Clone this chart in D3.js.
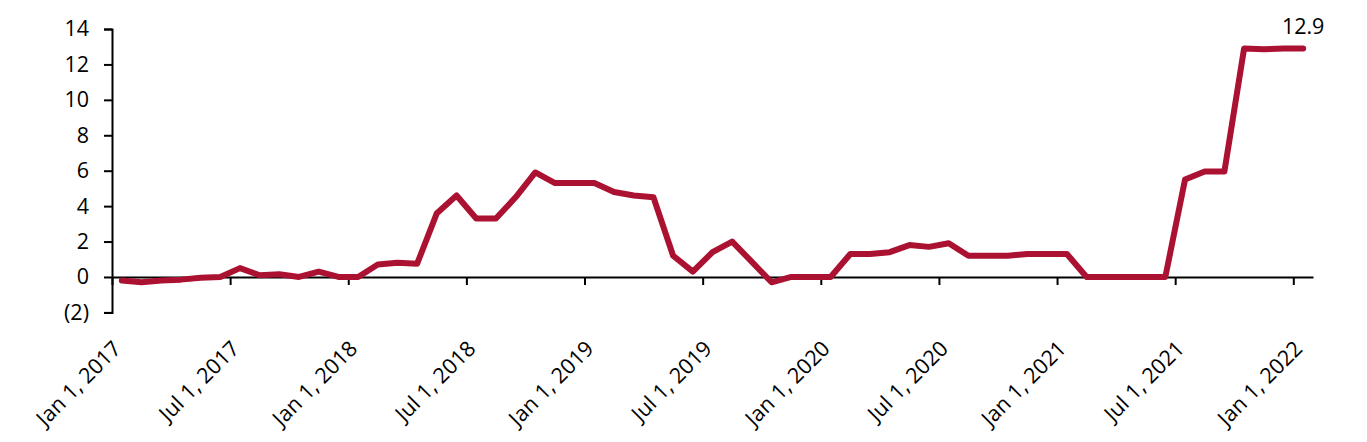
<!DOCTYPE html>
<html>
<head>
<meta charset="utf-8">
<script src="https://cdn.jsdelivr.net/npm/d3@7"></script>
<style>
  html, body { margin: 0; padding: 0; background: #fff; }
  svg text { font-family: "Open Sans", "Noto Sans", sans-serif; fill: #000; }
</style>
</head>
<body>
<svg id="chart" width="1367" height="442"></svg>
<script>
// Monthly values, Jan 2017 .. Jan 2022
const months = [
  "Jan 2017","Feb 2017","Mar 2017","Apr 2017","May 2017","Jun 2017","Jul 2017","Aug 2017","Sep 2017","Oct 2017","Nov 2017","Dec 2017",
  "Jan 2018","Feb 2018","Mar 2018","Apr 2018","May 2018","Jun 2018","Jul 2018","Aug 2018","Sep 2018","Oct 2018","Nov 2018","Dec 2018",
  "Jan 2019","Feb 2019","Mar 2019","Apr 2019","May 2019","Jun 2019","Jul 2019","Aug 2019","Sep 2019","Oct 2019","Nov 2019","Dec 2019",
  "Jan 2020","Feb 2020","Mar 2020","Apr 2020","May 2020","Jun 2020","Jul 2020","Aug 2020","Sep 2020","Oct 2020","Nov 2020","Dec 2020",
  "Jan 2021","Feb 2021","Mar 2021","Apr 2021","May 2021","Jun 2021","Jul 2021","Aug 2021","Sep 2021","Oct 2021","Nov 2021","Dec 2021",
  "Jan 2022"
];
const values = [
  -0.2, -0.3, -0.2, -0.15, -0.05, 0.0, 0.5, 0.1, 0.15, 0.0, 0.3, 0.0,
  0.0, 0.7, 0.8, 0.75, 3.6, 4.6, 3.3, 3.3, 4.5, 5.9, 5.3, 5.3,
  5.3, 4.8, 4.6, 4.5, 1.2, 0.3, 1.4, 2.0, 0.85, -0.3, 0.0, 0.0,
  0.0, 1.3, 1.3, 1.4, 1.8, 1.7, 1.9, 1.2, 1.2, 1.2, 1.3, 1.3,
  1.3, 0.0, 0.0, 0.0, 0.0, 0.0, 5.5, 5.95, 5.95, 12.9, 12.85, 12.9,
  12.9
];
const xTickIndex = [0, 6, 12, 18, 24, 30, 36, 42, 48, 54, 60];
const xTickLabels = ["Jan 1, 2017","Jul 1, 2017","Jan 1, 2018","Jul 1, 2018","Jan 1, 2019","Jul 1, 2019",
                     "Jan 1, 2020","Jul 1, 2020","Jan 1, 2021","Jul 1, 2021","Jan 1, 2022"];
const yTicks = [-2, 0, 2, 4, 6, 8, 10, 12, 14];
const yTickLabels = ["(2)", "0", "2", "4", "6", "8", "10", "12", "14"];
const lastLabel = "12.9";

const svg = d3.select("#chart");
const fontSize = 21.5;
const lineColor = "#AB1131";

const x = d3.scaleLinear().domain([0, months.length]).range([112, 1313]);
const y = d3.scaleLinear().domain([-2, 14]).range([312.4, 29]);

// Y axis
const yAxis = d3.axisLeft(y)
  .tickValues(yTicks)
  .tickSize(8)
  .tickPadding(15)
  .tickFormat((d, i) => yTickLabels[i]);
const gy = svg.append("g").attr("transform", `translate(${x(0)},0)`).call(yAxis);
gy.attr("font-size", null).attr("font-family", null);
gy.select(".domain").attr("stroke", "#000").attr("stroke-width", 2);
gy.selectAll(".tick line").attr("stroke", "#000").attr("stroke-width", 2);
gy.selectAll(".tick text").style("font-size", fontSize + "px")
  .style("font-family", '"Open Sans", sans-serif');

// X axis at y = 0
const xAxis = d3.axisBottom(x)
  .tickValues(xTickIndex)
  .tickSize(8)
  .tickSizeOuter(0)
  .tickFormat((d, i) => xTickLabels[i]);
const gx = svg.append("g").attr("transform", `translate(0,${y(0)})`).call(xAxis);
gx.attr("font-size", null).attr("font-family", null);
gx.select(".domain").attr("stroke", "#000").attr("stroke-width", 2);
gx.selectAll(".tick line").attr("stroke", "#000").attr("stroke-width", 2);
gx.selectAll(".tick text")
  .style("font-size", fontSize + "px")
  .style("font-family", '"Open Sans", sans-serif')
  .attr("text-anchor", "end")
  .attr("dy", null)
  .attr("y", 0)
  .attr("transform", `translate(10,73) rotate(-45)`);

// Line
const line = d3.line()
  .x((d, i) => x(i + 0.5))
  .y(d => y(d));
svg.append("path")
  .datum(values)
  .attr("fill", "none")
  .attr("stroke", lineColor)
  .attr("stroke-width", 6)
  .attr("stroke-linejoin", "round")
  .attr("stroke-linecap", "round")
  .attr("d", line);

// Last value label
const li = values.length - 1;
svg.append("text")
  .attr("x", x(li + 0.5))
  .attr("y", y(values[li]) - 14)
  .attr("text-anchor", "middle")
  .style("font-size", fontSize + "px")
  .text(lastLabel);
</script>
</body>
</html>
